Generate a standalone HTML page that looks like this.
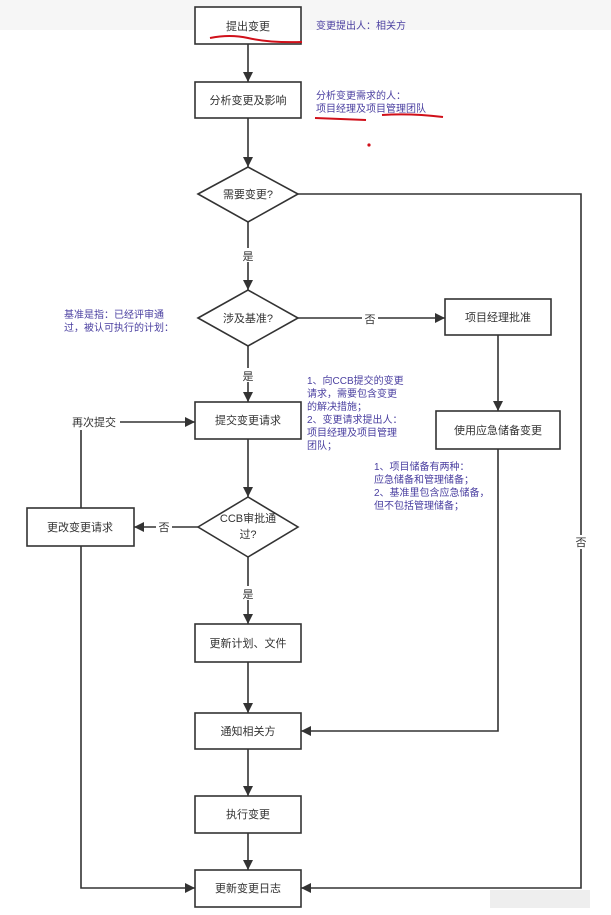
<!DOCTYPE html>
<html><head><meta charset="utf-8"><style>
html,body{margin:0;padding:0;background:#fff;}
svg text{font-family:"Liberation Sans","Noto Sans CJK SC",sans-serif;}
</style></head><body>
<svg width="611" height="910" viewBox="0 0 611 910" xmlns="http://www.w3.org/2000/svg">
<defs><marker id="a" viewBox="0 0 10 10" refX="10" refY="5" markerWidth="10" markerHeight="10" markerUnits="userSpaceOnUse" orient="auto"><path d="M0,0 L10,5 L0,10 z" fill="#333"/></marker></defs>
<rect x="0" y="0" width="611" height="30" fill="#f6f6f6"/>
<rect x="0" y="30" width="611" height="880" fill="#fff"/>
<g stroke="#333" stroke-width="1.6" fill="#fff">
<rect x="195" y="7" width="106" height="37"/>
<rect x="195" y="82" width="106" height="36"/>
<polygon points="198,194 248,167 298,194 248,222"/>
<polygon points="198,318 248,290 298,318 248,346"/>
<rect x="445" y="299" width="106" height="36"/>
<rect x="195" y="402" width="106" height="37"/>
<rect x="436" y="411" width="124" height="38"/>
<polygon points="198,527 248,497 298,527 248,557"/>
<rect x="27" y="508" width="107" height="38"/>
<rect x="195" y="624" width="106" height="38"/>
<rect x="195" y="713" width="106" height="36"/>
<rect x="195" y="796" width="106" height="37"/>
<rect x="195" y="870" width="106" height="37"/>
</g>
<g stroke="#333" stroke-width="1.6" fill="none" marker-end="url(#a)">
<line x1="248" y1="44" x2="248" y2="82"/>
<line x1="248" y1="118" x2="248" y2="167"/>
<line x1="248" y1="222" x2="248" y2="290"/>
<line x1="298" y1="318" x2="445" y2="318"/>
<line x1="498" y1="335" x2="498" y2="411"/>
<line x1="248" y1="346" x2="248" y2="402"/>
<line x1="248" y1="439" x2="248" y2="497"/>
<line x1="198" y1="527" x2="134" y2="527"/>
<polyline points="81,508 81,422 195,422"/>
<line x1="248" y1="557" x2="248" y2="624"/>
<line x1="248" y1="662" x2="248" y2="713"/>
<polyline points="498,449 498,731 301,731"/>
<line x1="248" y1="749" x2="248" y2="796"/>
<line x1="248" y1="833" x2="248" y2="870"/>
<polyline points="81,546 81,888 195,888"/>
<polyline points="298,194 581,194 581,888 301,888"/>
</g>
<g font-size="11" fill="#333" text-anchor="middle">
<text x="248" y="30">提出变更</text>
<text x="248" y="104">分析变更及影响</text>
<text x="248" y="198">需要变更?</text>
<text x="248" y="322">涉及基准?</text>
<text x="498" y="321">项目经理批准</text>
<text x="248" y="424">提交变更请求</text>
<text x="498" y="434">使用应急储备变更</text>
<text x="248" y="522">CCB审批通</text>
<text x="248" y="538">过?</text>
<text x="80" y="531">更改变更请求</text>
<text x="248" y="647">更新计划、文件</text>
<text x="248" y="735">通知相关方</text>
<text x="248" y="818">执行变更</text>
<text x="248" y="892">更新变更日志</text>
<rect x="240" y="248" width="16" height="14" fill="#fff"/>
<text x="248" y="260">是</text>
<rect x="362" y="311" width="16" height="14" fill="#fff"/>
<text x="370" y="323">否</text>
<rect x="240" y="368" width="16" height="14" fill="#fff"/>
<text x="248" y="380">是</text>
<rect x="72" y="416" width="48" height="14" fill="#fff"/>
<text x="94" y="426">再次提交</text>
<rect x="156" y="520" width="16" height="14" fill="#fff"/>
<text x="164" y="531">否</text>
<rect x="240" y="586" width="16" height="14" fill="#fff"/>
<text x="248" y="598">是</text>
<rect x="574" y="535" width="14" height="14" fill="#fff"/>
<text x="581" y="546">否</text>
</g>
<g font-size="10" fill="#4a3fa0">
<text x="316" y="29">变更提出人：相关方</text>
<text x="316" y="99">分析变更需求的人：</text>
<text x="316" y="112">项目经理及项目管理团队</text>
<text x="64" y="318">基准是指：已经评审通</text>
<text x="64" y="331">过，被认可执行的计划：</text>
<text x="307" y="384">1、向CCB提交的变更</text>
<text x="307" y="397">请求，需要包含变更</text>
<text x="307" y="410">的解决措施；</text>
<text x="307" y="423">2、变更请求提出人：</text>
<text x="307" y="436">项目经理及项目管理</text>
<text x="307" y="449">团队；</text>
<text x="374" y="470">1、项目储备有两种：</text>
<text x="374" y="483">应急储备和管理储备；</text>
<text x="374" y="496">2、基准里包含应急储备，</text>
<text x="374" y="509">但不包括管理储备；</text>
</g>
<g stroke="#d0101a" stroke-width="2" fill="none">
<path d="M210,38 Q230,34 248,38 Q270,43 302,42"/>
<path d="M315,118 L366,120"/>
<path d="M382,115 Q410,113 443,117"/>
</g>
<circle cx="369" cy="145" r="1.6" fill="#d0101a"/>
<rect x="490" y="890" width="100" height="18" fill="#eee"/>
</svg>
</body></html>
